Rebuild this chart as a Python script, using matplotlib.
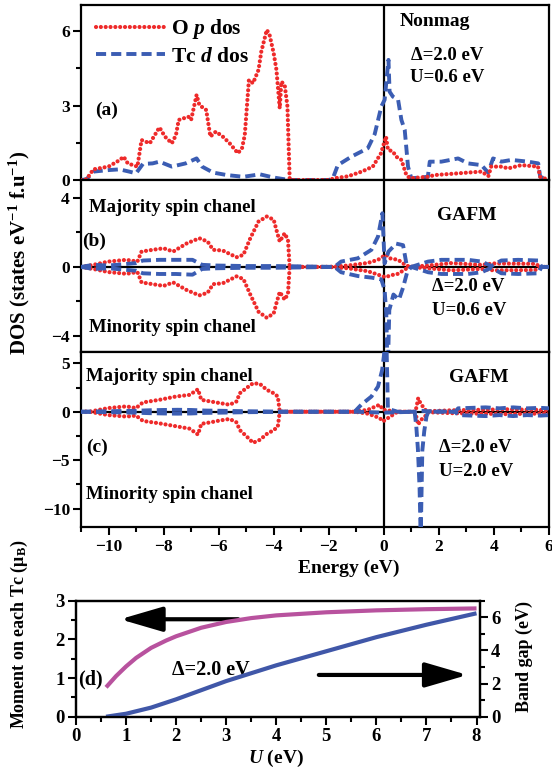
import numpy as np
import matplotlib
matplotlib.use("Agg")
import matplotlib.pyplot as plt
from matplotlib.ticker import MultipleLocator
from matplotlib.patches import FancyArrowPatch

plt.rcParams['font.family'] = ['Liberation Serif', 'DejaVu Serif']
plt.rcParams['font.weight'] = 'bold'
plt.rcParams['mathtext.fontset'] = 'custom'
plt.rcParams['mathtext.rm'] = 'Liberation Serif:bold'
plt.rcParams['mathtext.it'] = 'Liberation Serif:italic:bold'
plt.rcParams['mathtext.bf'] = 'Liberation Serif:bold'

RED = '#ee2a2a'
BLUE = '#3b5db3'
MAG = '#b8529e'
GAPBLUE = '#4057a8'

# ---- panel (a): nonmagnetic, U=0.6 eV
e_a_red = [-11.0, -10.8, -10.55, -10.0, -9.6, -9.45, -9.3, -8.95, -8.8, -8.5,
           -8.15, -7.95, -7.7, -7.55, -7.45, -7.1, -7.0, -6.8, -6.7, -6.45,
           -6.3, -6.1, -5.85, -5.6, -5.3, -5.15, -5.05, -4.9, -4.75, -4.55,
           -4.45, -4.25, -4.15, -4.0, -3.9, -3.78, -3.72, -3.6, -3.5, -3.42,
           -3.35, -2.0, -1.8, -1.3, -0.8, -0.4, -0.1, 0.08, 0.15, 0.33,
           0.45, 0.64, 0.82, 0.95, 1.6, 1.85, 2.7, 3.55, 3.8, 3.9,
           4.27, 4.52, 5.0, 5.6, 5.68, 6.0]
dos_a_red = [0.0, 0.03, 0.43, 0.54, 0.8, 0.94, 0.67, 0.54, 1.61, 1.48,
             2.12, 1.75, 1.48, 1.81, 2.42, 2.55, 2.42, 3.43, 3.02, 2.82,
             1.75, 1.95, 1.75, 1.48, 1.08, 1.28, 1.81, 4.03, 3.9, 4.44,
             5.17, 6.05, 5.85, 5.11, 4.44, 2.89, 3.96, 3.83, 2.96, 0.07,
             0.0, 0.0, 0.07, 0.15, 0.34, 0.54, 1.08, 1.75, 1.22, 1.15,
             0.94, 0.81, 0.2, 0.07, 0.13, 0.2, 0.27, 0.34, 0.16, 0.54,
             0.54, 0.47, 0.6, 0.54, 0.13, 0.0]
e_a_blue = [-11.0, -10.8, -10.55, -10.0, -9.6, -9.25, -9.0, -8.75, -8.4, -8.15,
            -7.7, -7.2, -6.8, -6.6, -6.2, -5.7, -5.1, -4.5, -4.0, -3.6,
            -3.3, -2.0, -1.85, -1.67, -1.18, -0.58, -0.33, -0.09, 0.03, 0.17,
            0.21, 0.33, 0.52, 0.64, 0.76, 0.88, 1.0, 1.6, 1.67, 2.09,
            2.7, 3.06, 3.55, 3.79, 3.97, 4.27, 4.64, 5.24, 5.61, 5.68,
            6.0]
dos_a_blue = [0.0, 0.03, 0.34, 0.40, 0.43, 0.34, 0.27, 0.65, 0.67, 0.74,
              0.54, 0.67, 0.87, 0.54, 0.3, 0.2, 0.13, 0.23, 0.1, 0.03,
              0.0, 0.0, 0.07, 0.6, 0.94, 1.28, 1.85, 2.96, 3.23, 4.84,
              3.56, 3.36, 3.23, 2.42, 2.02, 0.54, 0.07, 0.13, 0.74, 0.74,
              0.87, 0.67, 0.6, 0.3, 0.87, 0.74, 0.81, 0.74, 0.67, 0.13,
              0.0]

# ---- panel (b): GAFM, U=0.6 eV
e_b_red = [-11.0, -10.55, -10.0, -9.35, -8.95, -8.8, -8.4, -8.0, -7.65, -7.15,
           -6.7, -6.4, -6.2, -5.85, -5.35, -5.1, -4.85, -4.55, -4.25, -4.0,
           -3.9, -3.78, -3.6, -3.48, -3.42, -2.0, -1.3, -0.58, -0.21, -0.03,
           0.09, 0.21, 0.52, 0.76, 0.94, 1.6, 2.45, 3.55, 4.0, 5.5,
           5.7, 6.0]
dos_b_red_up = [0.0, 0.12, 0.31, 0.41, 0.31, 0.89, 0.99, 1.08, 0.89, 1.37,
                1.66, 1.47, 0.99, 0.95, 0.56, 0.70, 1.66, 2.63, 2.92, 2.74,
                2.14, 1.47, 1.95, 1.55, 0.0, 0.0, 0.08, 0.23, 0.41, 0.6,
                0.7, 0.5, 0.41, 0.14, 0.0, 0.08, 0.22, 0.12, 0.2, 0.18,
                0.0, 0.0]
dos_b_red_dn = [0.0, -0.12, -0.3, -0.4, -0.3, -0.9, -1.0, -1.1, -0.9, -1.35,
                -1.65, -1.5, -1.0, -0.95, -0.55, -0.7, -1.6, -2.6, -2.95, -2.7,
                -2.1, -1.45, -1.9, -1.55, 0.0, 0.0, -0.08, -0.25, -0.45, -0.55,
                -0.6, -0.5, -0.4, -0.15, 0.0, -0.08, -0.2, -0.12, -0.2, -0.18,
                0.0, 0.0]
e_b_blue_up = [-11.0, -10.55, -10.0, -9.0, -8.75, -8.15, -7.55, -6.95, -6.6, -6.1,
               -5.0, -4.0, -3.0, -1.79, -1.55, -0.94, -0.45, -0.21, -0.05, 0.03,
               0.17, 0.45, 0.7, 0.82, 1.0, 1.61, 2.09, 3.06, 3.55, 3.91,
               4.27, 4.88, 5.61, 5.73, 6.0]
dos_b_blue_up = [0.0, 0.12, 0.08, 0.22, 0.37, 0.41, 0.41, 0.41, 0.12, 0.08,
                 0.05, 0.05, 0.03, 0.0, 0.31, 0.5, 0.99, 1.76, 3.11, 0.2,
                 0.89, 1.35, 1.26, 0.2, 0.0, 0.31, 0.41, 0.41, 0.31, 0.05,
                 0.37, 0.41, 0.37, 0.0, 0.0]
e_b_blue_dn = [-11.0, -10.55, -10.0, -9.0, -8.75, -8.15, -7.55, -6.95, -6.6, -6.1,
               -5.0, -4.0, -3.0, -1.79, -1.55, -0.94, -0.45, -0.09, 0.03, 0.09,
               0.14, 0.2, 0.35, 0.55, 0.7, 0.85, 1.0, 1.61, 2.09, 3.06,
               3.55, 3.91, 4.27, 4.88, 5.61, 5.73, 6.0]
dos_b_blue_dn = [0.0, -0.12, -0.08, -0.22, -0.37, -0.41, -0.41, -0.45, -0.12, -0.08,
                 -0.05, -0.05, -0.03, 0.0, -0.31, -0.53, -0.62, -0.72, -1.33, -2.69,
                 -6.5, -2.5, -1.6, -1.9, -1.2, -0.3, 0.0, -0.31, -0.41, -0.41,
                 -0.31, -0.05, -0.37, -0.41, -0.37, 0.0, 0.0]

# ---- panel (c): GAFM, U=2.0 eV
e_c_red = [-11.0, -10.7, -10.0, -9.35, -9.0, -8.75, -8.15, -7.55, -7.05, -6.75,
           -6.63, -6.3, -5.95, -5.6, -5.35, -5.23, -5.0, -4.75, -4.5, -4.25,
           -4.0, -3.85, -3.78, -2.0, -1.06, -0.58, -0.15, -0.03, 0.5, 1.12,
           1.18, 1.25, 1.33, 1.5, 1.6, 2.5, 3.5, 4.5, 5.5, 6.0]
dos_c_red_up = [0.0, 0.0, 0.38, 0.55, 0.38, 0.96, 1.23, 1.57, 1.74, 2.32,
                1.23, 1.06, 0.89, 0.72, 1.06, 1.91, 2.42, 2.94, 2.87, 2.26,
                1.91, 1.57, 0.0, 0.0, 0.0, 0.2, 0.72, 0.2, 0.0, 0.0,
                0.38, 1.4, 0.89, 0.2, 0.05, 0.15, 0.2, 0.25, 0.2, 0.15]
dos_c_red_dn = [0.0, 0.0, -0.35, -0.5, -0.4, -0.95, -1.2, -1.5, -1.75, -2.36,
                -1.25, -1.1, -0.9, -0.75, -1.1, -1.9, -2.5, -3.21, -2.9, -2.3,
                -1.9, -1.55, 0.0, 0.0, 0.0, -0.2, -0.65, -1.0, 0.0, 0.0,
                -0.5, -1.33, -0.9, -0.48, -0.05, -0.15, -0.2, -0.25, -0.2, -0.15]
e_c_blue_up = [-11.0, -10.0, -9.0, -8.5, -8.0, -7.5, -7.0, -6.5, -6.0, -5.0,
               -4.0, -3.0, -1.06, -0.82, -0.45, -0.21, -0.06, 0.0, 0.09, 0.15,
               0.5, 1.12, 1.3, 1.6, 2.6, 2.7, 3.2, 3.7, 4.2, 4.7,
               5.2, 5.7, 6.0]
dos_c_blue_up = [0.0, 0.05, 0.1, 0.15, 0.18, 0.2, 0.18, 0.12, 0.1, 0.05,
                 0.02, 0.0, 0.0, 0.72, 1.57, 2.6, 4.3, 5.67, 8.0, 0.3,
                 0.0, 0.0, 0.1, 0.05, 0.0, 0.35, 0.4, 0.45, 0.35, 0.45,
                 0.35, 0.4, 0.35]
e_c_blue_dn = [-11.0, -10.0, -9.0, -8.5, -8.0, -7.5, -7.0, -6.5, -6.0, -5.0,
               -4.0, -3.0, -1.06, -0.5, 0.0, 1.12, 1.18, 1.24, 1.3, 1.34,
               1.4, 1.47, 1.55, 1.62, 2.6, 2.7, 3.2, 3.7, 4.2, 4.7,
               5.2, 5.7, 6.0]
dos_c_blue_dn = [0.0, -0.05, -0.1, -0.15, -0.18, -0.2, -0.18, -0.12, -0.1, -0.05,
                 -0.02, 0.0, 0.0, -0.05, -0.1, 0.0, -1.5, -3.9, -7.9, -13.0,
                 -4.0, -2.0, -0.5, 0.0, 0.0, -0.35, -0.4, -0.45, -0.35, -0.45,
                 -0.35, -0.4, -0.35]

# ---- panel (d): moment and band gap vs U
u_mom = [0.6, 0.8, 1.0, 1.2, 1.5, 1.8, 2.0, 2.5, 3.0, 3.5, 4.0, 5.0, 6.0, 7.0, 8.0]
moment = [0.76, 1.05, 1.3, 1.52, 1.78, 1.97, 2.08, 2.3, 2.45, 2.55, 2.62, 2.7, 2.75, 2.78, 2.8]
u_gap = [0.6, 1.0, 1.5, 2.0, 2.5, 3.0, 4.0, 5.0, 6.0, 7.0, 8.0]
band_gap = [0.0, 0.18, 0.55, 1.05, 1.6, 2.15, 3.1, 3.95, 4.8, 5.55, 6.24]

red_style = dict(color=RED, lw=3.0, linestyle=(0, (0.01, 1.15)), dash_capstyle='round')
blue_style = dict(color=BLUE, lw=2.8, linestyle=(0, (2.6, 1.3)))


def style_dos_axis(ax, ylim, ymajor, yminor, show_xlabels=False):
    ax.set_xlim(-11, 6)
    ax.set_ylim(*ylim)
    ax.xaxis.set_major_locator(MultipleLocator(2))
    ax.xaxis.set_minor_locator(MultipleLocator(1))
    ax.yaxis.set_major_locator(MultipleLocator(ymajor))
    ax.yaxis.set_minor_locator(MultipleLocator(yminor))
    ax.tick_params(which='both', direction='out', top=False, right=False, width=1.5,
                   labelsize=12.5, pad=2)
    ax.tick_params(which='major', length=6)
    ax.tick_params(which='minor', length=3.5)
    ax.tick_params(axis='x', labelbottom=show_xlabels)
    for sp in ax.spines.values():
        sp.set_linewidth(1.6)
    ax.axvline(0, color='k', lw=1.6, zorder=1)


fig = plt.figure(figsize=(5.52, 7.71), dpi=100)

ax_a = fig.add_axes([0.1467, 0.7665, 0.8478, 0.2270])
ax_b = fig.add_axes([0.1467, 0.5435, 0.8478, 0.2231])
ax_c = fig.add_axes([0.1467, 0.3165, 0.8478, 0.2270])
ax_d = fig.add_axes([0.1377, 0.0704, 0.7319, 0.1505])

# (a)
style_dos_axis(ax_a, (0, 7.05), 3, 1.5)
l_blue, = ax_a.plot(e_a_blue, dos_a_blue, **blue_style, zorder=2)
l_red, = ax_a.plot(e_a_red, dos_a_red, **red_style, zorder=3)
leg = ax_a.legend([l_red, l_blue], [r'O $\mathit{p}$ dos', r'Tc $\mathit{d}$ dos'],
                  loc='upper left', bbox_to_anchor=(-0.01, 1.04), frameon=False,
                  fontsize=15.5, handlelength=3.2, handletextpad=0.3, labelspacing=0.25)
ax_a.text(1.85, 6.4, 'Nonmag', ha='center', va='center', fontsize=14)
ax_a.text(1.0, 5.0, 'Δ=2.0 eV', ha='left', va='center', fontsize=13.5)
ax_a.text(0.95, 4.15, 'U=0.6 eV', ha='left', va='center', fontsize=13.5)
ax_a.text(-10.5, 2.82, '(a)', ha='left', va='center', fontsize=14)

# (b)
style_dos_axis(ax_b, (-4.93, 5.04), 4, 2)
ax_b.axhline(0, color='k', lw=1.6, zorder=1)
ax_b.plot(e_b_red, dos_b_red_up, **red_style, zorder=2)
ax_b.plot(e_b_red, dos_b_red_dn, **red_style, zorder=2)
ax_b.plot(e_b_blue_up, dos_b_blue_up, **blue_style, zorder=3)
ax_b.plot(e_b_blue_dn, dos_b_blue_dn, **blue_style, zorder=3)
ax_b.text(-10.7, 3.42, 'Majority spin chanel', ha='left', va='center', fontsize=13.5)
ax_b.text(-10.7, -3.54, 'Minority spin chanel', ha='left', va='center', fontsize=13.5)
ax_b.text(-10.97, 1.5, '(b)', ha='left', va='center', fontsize=14)
ax_b.text(3.0, 3.0, 'GAFM', ha='center', va='center', fontsize=14)
ax_b.text(1.75, -1.16, 'Δ=2.0 eV', ha='left', va='center', fontsize=13.5)
ax_b.text(1.75, -2.5, 'U=0.6 eV', ha='left', va='center', fontsize=13.5)

# (c)
style_dos_axis(ax_c, (-11.9, 6.17), 5, 2.5, show_xlabels=True)
ax_c.axhline(0, color='k', lw=1.6, zorder=1)
ax_c.plot(e_c_red, dos_c_red_up, **red_style, zorder=2)
ax_c.plot(e_c_red, dos_c_red_dn, **red_style, zorder=2)
ax_c.plot(e_c_blue_up, dos_c_blue_up, **blue_style, zorder=3)
ax_c.plot(e_c_blue_dn, dos_c_blue_dn, **blue_style, zorder=3)
ax_c.text(-10.8, 3.6, 'Majority spin chanel', ha='left', va='center', fontsize=13.5)
ax_c.text(-10.8, -8.5, 'Minority spin chanel', ha='left', va='center', fontsize=13.5)
ax_c.text(-10.8, -3.7, '(c)', ha='left', va='center', fontsize=14)
ax_c.text(3.46, 3.5, 'GAFM', ha='center', va='center', fontsize=14)
ax_c.text(2.0, -3.7, 'Δ=2.0 eV', ha='left', va='center', fontsize=13.5)
ax_c.text(2.0, -6.15, 'U=2.0 eV', ha='left', va='center', fontsize=13.5)
ax_c.tick_params(axis='x', pad=3)

fig.text(349 / 552, 1 - 568 / 771, 'Energy (eV)', ha='center', va='center', fontsize=14)
fig.text(19 / 552, 1 - 253 / 771, r'DOS (states eV$^{-1}$ f.u$^{-1}$)', rotation=90,
         ha='center', va='center', fontsize=15)

# (d)
ax_d.plot(u_mom, moment, color=MAG, lw=3, solid_capstyle='butt')
ax_d.set_xlim(0, 8.07)
ax_d.set_ylim(0, 3)
ax_d.xaxis.set_major_locator(MultipleLocator(1))
ax_d.xaxis.set_minor_locator(MultipleLocator(0.5))
ax_d.yaxis.set_major_locator(MultipleLocator(1))
ax_d.yaxis.set_minor_locator(MultipleLocator(0.5))
ax_d2 = ax_d.twinx()
ax_d2.plot(u_gap, band_gap, color=GAPBLUE, lw=3, solid_capstyle='butt')
ax_d2.set_ylim(0, 7)
ax_d2.yaxis.set_major_locator(MultipleLocator(2))
ax_d2.yaxis.set_minor_locator(MultipleLocator(1))
for a in (ax_d, ax_d2):
    a.tick_params(which='both', direction='out', width=1.5, labelsize=13.5, pad=2)
    a.tick_params(which='major', length=6)
    a.tick_params(which='minor', length=3.5)
    for sp in a.spines.values():
        sp.set_linewidth(1.6)
ax_d.tick_params(top=False, right=False)
ax_d2.tick_params(left=False, top=False)

arr1 = FancyArrowPatch((3.24, 2.52), (0.88, 2.52), arrowstyle='-|>,head_length=1.3,head_width=0.38',
                       mutation_scale=20, lw=3, color='k', shrinkA=0, shrinkB=0)
ax_d.add_patch(arr1)
arr2 = FancyArrowPatch((4.85, 1.08), (7.82, 1.08), arrowstyle='-|>,head_length=1.3,head_width=0.38',
                       mutation_scale=20, lw=3, color='k', shrinkA=0, shrinkB=0)
ax_d.add_patch(arr2)
ax_d.text(1.91, 1.21, 'Δ=2.0 eV', ha='left', va='center', fontsize=14.5)
ax_d.text(0.04, 0.97, '(d)', ha='left', va='center', fontsize=14.5)

fig.text(276 / 552, 1 - 758 / 771, r'$\mathit{U}$ (eV)', ha='center', va='center', fontsize=14)
fig.text(19 / 552, 1 - 634 / 771, r'Moment on each Tc (μ$_\mathrm{B}$)', rotation=90,
         ha='center', va='center', fontsize=13)
fig.text(524 / 552, 1 - 657 / 771, 'Band gap (eV)', rotation=90,
         ha='center', va='center', fontsize=13)

fig.savefig('out.png', dpi=100)
